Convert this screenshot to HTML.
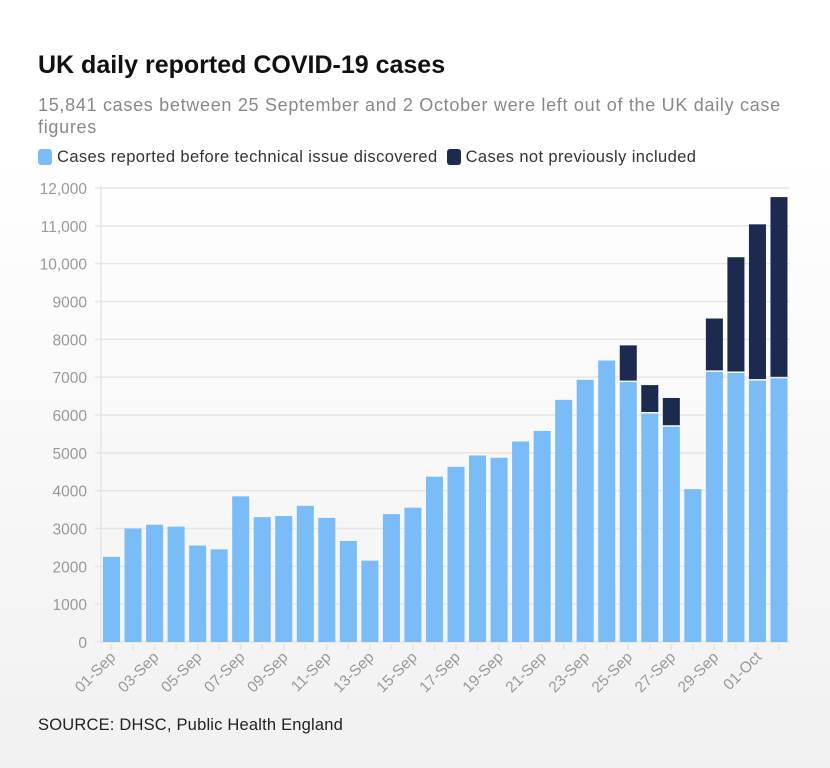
<!DOCTYPE html>
<html><head><meta charset="utf-8"><style>
body{margin:0;width:830px;height:768px;overflow:hidden;font-family:"Liberation Sans",sans-serif;background:linear-gradient(#fff 0%,#fff 20%,#f1f1f1 100%);}
#title{position:absolute;left:38px;top:51px;font-size:25px;font-weight:bold;color:#111;}
#sub{position:absolute;left:38px;top:94px;width:770px;font-size:18px;letter-spacing:0.7px;color:#888;line-height:22px;}
#legend{position:absolute;left:38px;top:148px;font-size:16.5px;letter-spacing:0.4px;color:#333;}
.sw{display:inline-block;width:14px;height:16px;border-radius:3px;vertical-align:-3px;margin-right:5px;}
#src{position:absolute;left:38px;top:716px;font-size:16.5px;letter-spacing:0.2px;color:#222;}
svg{position:absolute;left:0;top:0;}
</style></head><body>
<div id="title">UK daily reported COVID-19 cases</div>
<div id="sub">15,841 cases between 25 September and 2 October were left out of the UK daily case figures</div>
<div id="legend">
<span><span class="sw" style="background:#7abcf7"></span>Cases reported before technical issue discovered</span>
<span style="margin-left:4px"><span class="sw" style="background:#1b2a4e"></span>Cases not previously included</span>
</div>
<svg id="chart" width="830" height="768"></svg>
<div id="src">SOURCE: DHSC, Public Health England</div>
<script>
const categories=["01-Sep","02-Sep","03-Sep","04-Sep","05-Sep","06-Sep","07-Sep","08-Sep","09-Sep","10-Sep","11-Sep","12-Sep","13-Sep","14-Sep","15-Sep","16-Sep","17-Sep","18-Sep","19-Sep","20-Sep","21-Sep","22-Sep","23-Sep","24-Sep","25-Sep","26-Sep","27-Sep","28-Sep","29-Sep","30-Sep","01-Oct","02-Oct"];
const reported=[2250,3000,3100,3050,2550,2450,3850,3300,3330,3600,3280,2670,2150,3380,3550,4370,4630,4930,4870,5300,5580,6400,6930,7440,6870,6040,5690,4040,7140,7110,6910,6970];
const notIncluded=[0,0,0,0,0,0,0,0,0,0,0,0,0,0,0,0,0,0,0,0,0,0,0,0,970,750,760,0,1410,3060,4130,4790];
const yTicks=[0,1000,2000,3000,4000,5000,6000,7000,8000,9000,10000,11000,12000];
const yLabels=["0","1000","2000","3000","4000","5000","6000","7000","8000","9000","10,000","11,000","12,000"];
const NS="http://www.w3.org/2000/svg";
const svg=document.getElementById('chart');
const x0=101,x1=790,y0=642,y1=188,yMax=12000;
const step=(x1-x0)/categories.length;
const bw=step-4.5;
const y=v=>y0-(v/yMax)*(y0-y1);
const x=i=>x0+i*step+2;
function mk(t,a){const e=document.createElementNS(NS,t);for(const k in a)e.setAttribute(k,a[k]);svg.appendChild(e);return e;}
yTicks.forEach((t,i)=>{
  const l=mk('line',{x1:x0-6,x2:x1,y1:y(t),y2:y(t),stroke:'#e6e6e6','stroke-width':1.5});
  
  
  const tx=mk('text',{x:87,y:y(t)+6,'text-anchor':'end','font-size':15.5,fill:'#999','font-family':'Liberation Sans, sans-serif'});
  tx.textContent=yLabels[i];
  
  
});
const ax=mk('line',{x1:x0,x2:x0,y1:y1-2,y2:y0+2,stroke:'#e6e6e6','stroke-width':1.5});


categories.forEach((c,i)=>{
  const r=mk('rect',{x:x(i),y:y(reported[i]),width:bw,height:y0-y(reported[i]),fill:'#7abcf7'});
  
  
  if(notIncluded[i]>0){
    const top=reported[i]+notIncluded[i];
    const d=mk('rect',{x:x(i),y:y(top),width:bw,height:y(reported[i])-y(top)-1.5,fill:'#1b2a4e'});
    
    
  }
  const cx=x(i)+bw/2;
  const tk=mk('line',{x1:cx,x2:cx,y1:y0+2,y2:y0+8,stroke:'#e3e3e3','stroke-width':1.5});
  
  
  if(i%2===0){
    const t=mk('text',{x:cx+5,y:y0+16,'text-anchor':'end','font-size':15.5,fill:'#999','font-family':'Liberation Sans, sans-serif',transform:`rotate(-45 ${cx+5} ${y0+16})`});
    t.textContent=c;
    
    
  }
});
</script>
</body></html>
